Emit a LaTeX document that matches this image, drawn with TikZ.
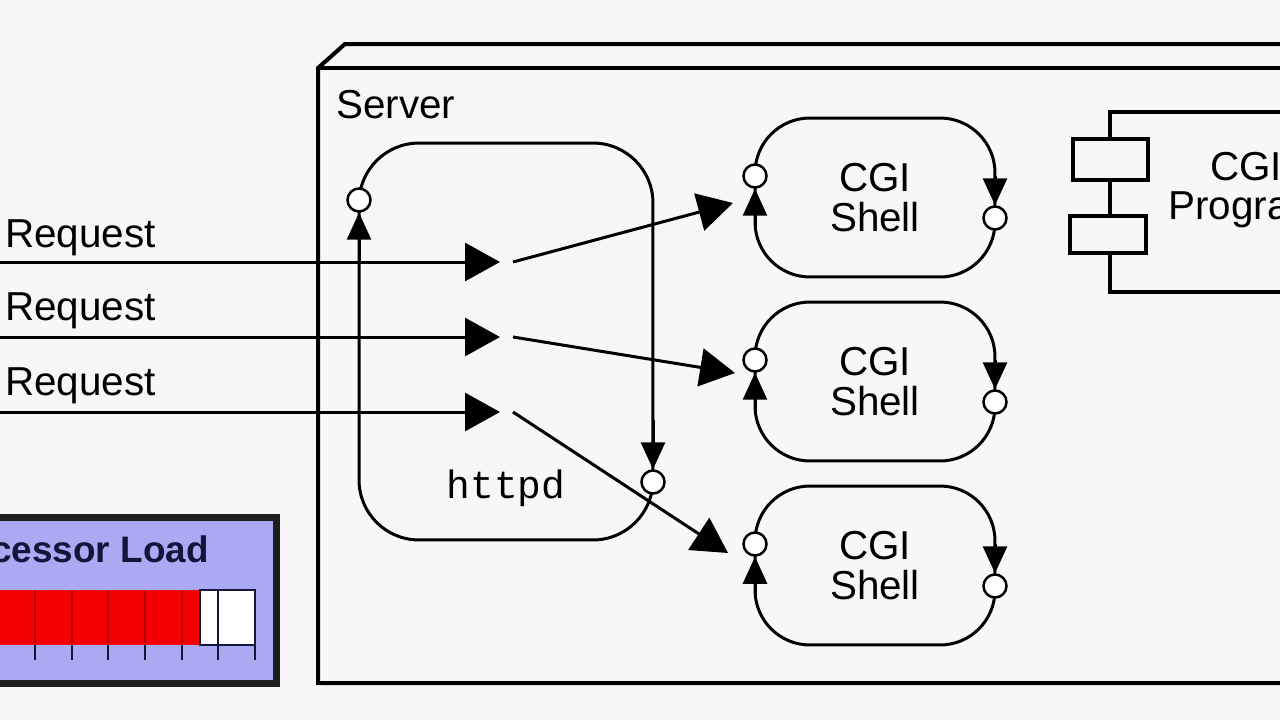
\documentclass[tikz,border=0pt]{standalone}
\usepackage{fontspec}
\setmainfont{Liberation Sans}
\newfontfamily\monofont{Liberation Mono}
\usetikzlibrary{arrows.meta}
\definecolor{bg}{RGB}{248,247,245}
\definecolor{lav}{RGB}{170,170,242}
\definecolor{framec}{RGB}{30,30,30}
\definecolor{barred}{RGB}{245,0,0}
\definecolor{darkred}{RGB}{185,0,0}
\definecolor{navy}{RGB}{20,20,60}
\begin{document}
\begin{tikzpicture}[x=0.02cm,y=-0.02cm,
  lw/.style={line width=0.06cm},
  bigtip/.style={lw,-{Triangle[length=0.7cm,width=0.76cm]}},
  smalltip/.style={lw,-{Triangle[length=0.54cm,width=0.48cm]}},
  port/.style={circle,draw,fill=white,line width=0.05cm,minimum size=0.46cm,inner sep=0pt},
  txt/.style={font=\fontsize{23}{23}\selectfont,inner sep=0pt},
  shell/.style={draw,lw,rounded corners=1.1cm,minimum width=4.8cm,minimum height=3.18cm,
    align=center,font=\fontsize{23}{22.5}\selectfont,fill=bg},
  comp/.style={draw,line width=0.08cm,fill=bg,inner sep=0pt}
]
\useasboundingbox (0,0) rectangle (1280,720);
\fill[bg] (0,0) rectangle (1280,720);
\clip (0,0) rectangle (1280,720);

% Server node (3D box)
\coordinate (srvA) at (1300,44);
\coordinate (srvB) at (345,44);
\coordinate (srvC) at (318,68);
\coordinate (srvD) at (318,683);
\coordinate (srvE) at (1300,683);
\coordinate (srvF) at (1300,68);
\draw[line width=0.08cm,line join=miter] (srvA) -- (srvB) -- (srvC) -- (srvD) -- (srvE);
\draw[line width=0.08cm] (srvC) -- (srvF);
\node[txt,anchor=base west] (srvlabel) at (336,118) {Server};

% httpd
\node[draw,lw,rounded corners=1.2cm,minimum width=5.88cm,minimum height=7.94cm] (httpd) at (506,341.5) {};
\node[font=\monofont\fontsize{22.5}{22.5}\selectfont,anchor=base,inner sep=0pt] (httpdlabel) at (506,498) {httpd};

% CGI shells
\node[shell] (shell1) at (875,197.5) {CGI\\Shell};
\node[shell] (shell2) at (875,381.5) {CGI\\Shell};
\node[shell] (shell3) at (875,565.5) {CGI\\Shell};

% CGI Program component
\node[comp,minimum width=6cm,minimum height=3.6cm,anchor=north west] (cgiprog) at (1108,110) {};
\node[txt,align=center,font=\fontsize{23}{22}\selectfont] (cgiproglabel) at (1246,190) {CGI\\Program};
\node[comp,minimum width=1.5cm,minimum height=0.82cm] (tab1) at (1110.5,159.5) {};
\node[comp,minimum width=1.52cm,minimum height=0.74cm] (tab2) at (1108,234.5) {};

% Requests
\node[txt,anchor=base west] (req1label) at (5,247) {Request};
\node[txt,anchor=base west] (req2label) at (5,320) {Request};
\node[txt,anchor=base west] (req3label) at (5,395) {Request};
\coordinate (in1) at (-10,262);
\coordinate (in2) at (-10,337);
\coordinate (in3) at (-10,412);
\coordinate (tip1) at (500,262);
\coordinate (tip2) at (500,337);
\coordinate (tip3) at (500,412);
\coordinate (out1) at (513,262);
\coordinate (out2) at (513,337);
\coordinate (out3) at (513,412);
\coordinate (to1) at (733,203);
\coordinate (to2) at (735,373);
\coordinate (to3) at (728,553);
\draw[bigtip] (in1) -- (tip1);
\draw[bigtip] (in2) -- (tip2);
\draw[bigtip] (in3) -- (tip3);
\draw[bigtip] (out1) -- (to1);
\draw[bigtip] (out2) -- (to2);
\draw[bigtip] (out3) -- (to3);

% ports
\node[port] (hpL) at (359,200) {};
\node[port] (hpR) at (653,482) {};
\coordinate (hL0) at (359,262);
\coordinate (hR0) at (653,420);
\draw[smalltip] (hL0) -- (hpL.south);
\draw[smalltip] (hR0) -- (hpR.north);

\foreach \i/\dy in {1/0,2/184,3/368}{
  \node[port] (sL\i) at (755,176+\dy) {};
  \node[port] (sR\i) at (995,218+\dy) {};
  \coordinate (sL\i0) at (755,226+\dy);
  \coordinate (sR\i0) at (995,176+\dy);
  \draw[smalltip] (sL\i0) -- (sL\i.south);
  \draw[smalltip] (sR\i0) -- (sR\i.north);
}

% Processor Load widget
\draw[draw=framec,line width=0.14cm,fill=lav] (-100,517) rectangle (276,683);
\node[font=\bfseries\fontsize{21}{21}\selectfont,text=navy,anchor=base east,inner sep=0pt] (loadlabel) at (209,562) {Processor Load};
\fill[barred] (-50,590) rectangle (200,645);
\foreach \x in {-1.5,35,72,108,145,182}{
  \draw[darkred,line width=0.04cm] (\x,590) -- (\x,645);
}
\draw[navy,line width=0.05cm,fill=white] (200,590) rectangle (255,645);
\draw[navy,line width=0.05cm] (218,590) -- (218,645);
\foreach \x in {-1.5,35,72,108,145,182,218,255}{
  \draw[navy,line width=0.045cm] (\x,645) -- (\x,660);
}
\end{tikzpicture}
\end{document}
